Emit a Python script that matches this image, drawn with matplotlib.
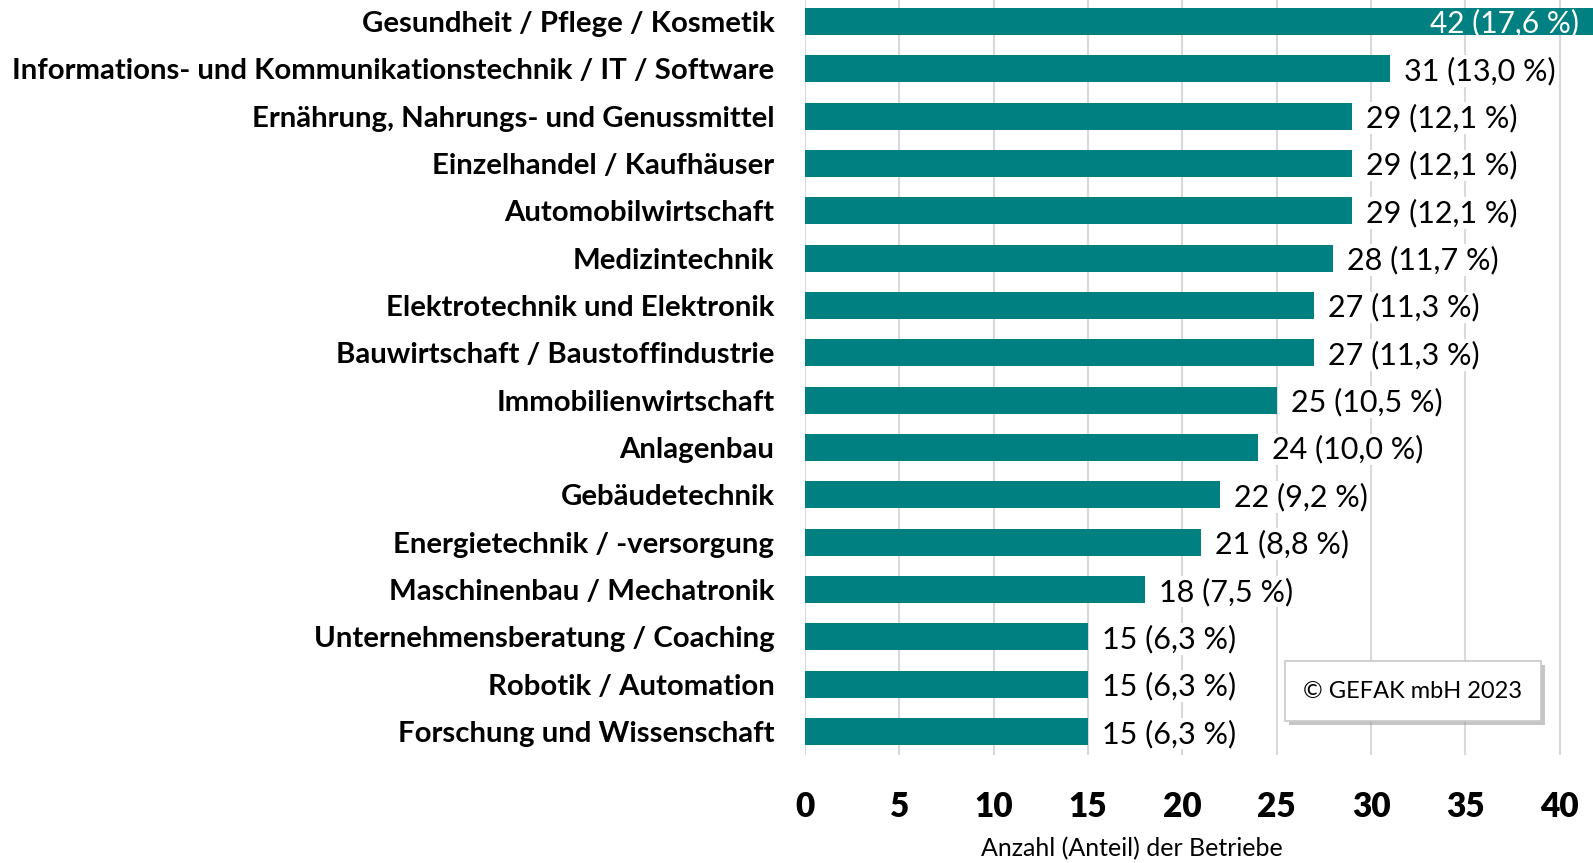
import matplotlib.pyplot as plt
from matplotlib.patches import Rectangle

branchen = [
    "Gesundheit / Pflege / Kosmetik",
    "Informations- und Kommunikationstechnik / IT / Software",
    "Ernährung, Nahrungs- und Genussmittel",
    "Einzelhandel / Kaufhäuser",
    "Automobilwirtschaft",
    "Medizintechnik",
    "Elektrotechnik und Elektronik",
    "Bauwirtschaft / Baustoffindustrie",
    "Immobilienwirtschaft",
    "Anlagenbau",
    "Gebäudetechnik",
    "Energietechnik / -versorgung",
    "Maschinenbau / Mechatronik",
    "Unternehmensberatung / Coaching",
    "Robotik / Automation",
    "Forschung und Wissenschaft",
]
anzahl = [42, 31, 29, 29, 29, 28, 27, 27, 25, 24, 22, 21, 18, 15, 15, 15]
anteil = [17.6, 13.0, 12.1, 12.1, 12.1, 11.7, 11.3, 11.3, 10.5, 10.0, 9.2, 8.8, 7.5, 6.3, 6.3, 6.3]
x_ticks = [0, 5, 10, 15, 20, 25, 30, 35, 40]

teal = '#008080'
W, H = 1593, 863
x_max = 41.76

plt.rcParams['font.family'] = ['Lato', 'DejaVu Sans']

fig = plt.figure(figsize=(W / 100, H / 100), dpi=100)
ax = fig.add_axes([805 / W, 1 - 755.2 / H, 1 - 805 / W, 757.4 / H])

y = list(range(len(branchen)))
ax.barh(y, anzahl, height=0.57, color=teal, zorder=2)
ax.set_ylim(len(branchen) - 0.5, -0.5)
ax.set_xlim(0, x_max)

ax.set_yticks(y)
ax.set_yticklabels(branchen, fontsize=21.2, fontweight='bold')
ax.set_xticks(x_ticks)
ax.set_xticklabels([str(t) for t in x_ticks], fontsize=24, fontweight='heavy')
ax.tick_params(axis='y', length=0, pad=22)
ax.tick_params(axis='x', length=0, pad=26)
ax.grid(axis='x', color='#D9D9D9', lw=1.5, zorder=0)
ax.set_axisbelow(True)
for s in ax.spines.values():
    s.set_visible(False)

for i, (v, p) in enumerate(zip(anzahl, anteil)):
    txt = f"{v} ({p:.1f} %)".replace('.', ',')
    if v > x_max:
        ax.annotate(txt, xy=(x_max, i), xytext=(-10, -1), textcoords='offset points',
                    ha='right', va='center', fontsize=21.5, color='white', zorder=3)
    else:
        ax.annotate(txt, xy=(v, i), xytext=(10, -1.5), textcoords='offset points',
                    ha='left', va='center', fontsize=22, color='black', zorder=3,
                    bbox=dict(facecolor='white', edgecolor='none', pad=1))

fig.text(1132 / W, 1 - 849 / H, "Anzahl (Anteil) der Betriebe",
         ha='center', va='center', fontsize=18)

# Copyright-Box mit Schatten
bx, by, bw, bh = 1285, 661, 256, 60
fig.patches.append(Rectangle(((bx + 4) / W, 1 - (by + bh + 4) / H), bw / W, bh / H,
                             transform=fig.transFigure, facecolor='#A0A0A0',
                             edgecolor='none', alpha=0.6, zorder=4))
fig.patches.append(Rectangle((bx / W, 1 - (by + bh) / H), bw / W, bh / H,
                             transform=fig.transFigure, facecolor='white',
                             edgecolor='#C8C8C8', lw=1.2, zorder=5))
fig.text((bx + bw / 2) / W, 1 - (by + bh / 2) / H, "© GEFAK mbH 2023",
         ha='center', va='center', fontsize=17, zorder=6)

fig.savefig('out.png', dpi=100)
